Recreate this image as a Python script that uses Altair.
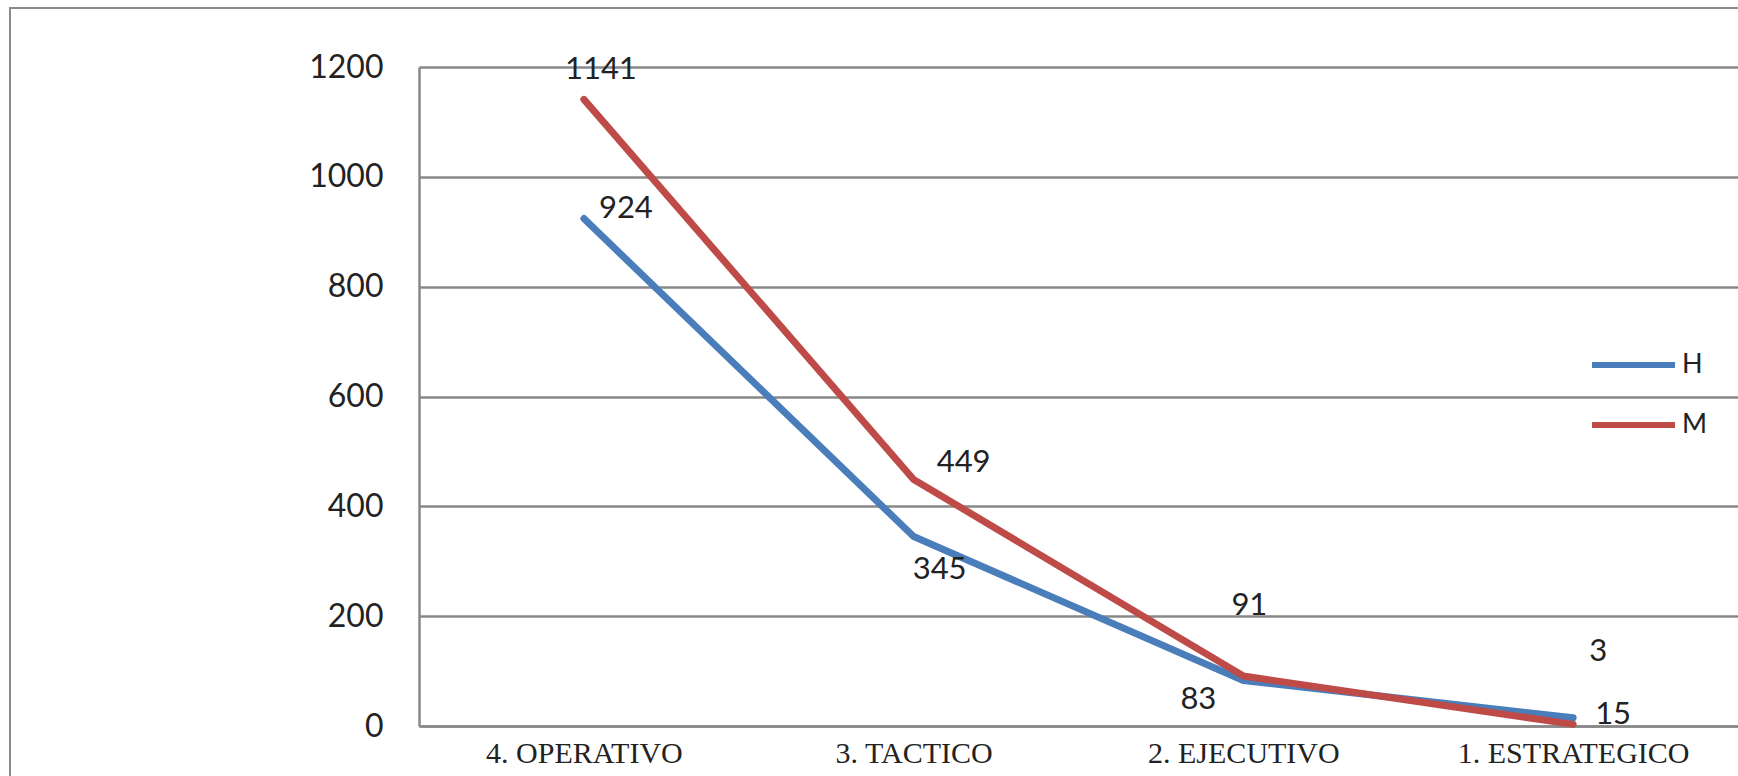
import altair as alt
import pandas as pd

categories = ["4. OPERATIVO", "3. TACTICO", "2. EJECUTIVO", "1. ESTRATEGICO"]
series_names = ["H", "M"]
h_values = [924, 345, 83, 15]
m_values = [1141, 449, 91, 3]
y_ticks = [0, 200, 400, 600, 800, 1000, 1200]

series_colors = ["#4A7EBB", "#BE4B48"]
# label offsets (dx, dy) in pixels, per point, like the Excel data labels
label_offsets = {
    "H": [(42, -10), (26, 33), (-45, 20), (40, -3)],
    "M": [(17, -29), (50, -16), (6, -70), (25, -72)],
}

rows = []
for name, vals in zip(series_names, [h_values, m_values]):
    for c, v in zip(categories, vals):
        rows.append({"category": c, "series": name, "value": v})
df = pd.DataFrame(rows)

W, H = 1319, 659

x_enc = alt.X(
    "category:N",
    sort=categories,
    scale=alt.Scale(type="point", padding=0.5),
    axis=alt.Axis(
        title=None, labelAngle=0, ticks=False, grid=False,
        domainColor="#888888", domainWidth=2.5,
        labelFont="Liberation Serif", labelFontSize=30, labelColor="#222222",
        labelPadding=12, labelLimit=0,
    ),
)
y_enc = alt.Y(
    "value:Q",
    scale=alt.Scale(domain=[0, 1200], nice=False),
    axis=alt.Axis(
        title=None, values=y_ticks, ticks=False, format="d",
        domainColor="#888888", domainWidth=2.5,
        gridColor="#888888", gridWidth=2.5,
        labelFont="Lato", labelFontSize=32, labelColor="#222222",
        labelPadding=36,
    ),
)

lines = alt.Chart(df).mark_line(strokeWidth=7, strokeCap="round", strokeJoin="round").encode(
    x=x_enc,
    y=y_enc,
    color=alt.Color(
        "series:N",
        scale=alt.Scale(domain=series_names, range=series_colors),
        legend=alt.Legend(
            title=None, orient="none", legendX=1170, legendY=283,
            symbolType="stroke", symbolSize=6889, symbolStrokeWidth=6,
            clipHeight=30, rowPadding=30, padding=0,
            labelFont="Lato", labelFontSize=27, labelColor="#222222", labelOffset=4,
        ),
    ),
    order=alt.Order("series:N"),
)

label_layers = []
for name in series_names:
    for c, (dx, dy) in zip(categories, label_offsets[name]):
        label_layers.append(
            alt.Chart(df)
            .transform_filter((alt.datum.series == name) & (alt.datum.category == c))
            .mark_text(font="Lato", fontSize=31, color="#222222", dx=dx, dy=dy)
            .encode(
                x=alt.X("category:N", sort=categories, scale=alt.Scale(type="point", padding=0.5)),
                y=alt.Y("value:Q"),
                text=alt.Text("value:Q"),
            )
        )

border = alt.Chart(pd.DataFrame({"a": [0]})).mark_rect(
    fill="transparent", stroke="#8c8c8c", strokeWidth=2
).encode(
    x=alt.value(-409), x2=alt.value(W + 40),
    y=alt.value(-59), y2=alt.value(H + 150),
)

chart = alt.layer(border, lines, *label_layers).properties(
    width=W,
    height=H,
    autosize=alt.AutoSizeParams(type="none"),
    padding={"left": 419, "top": 67, "right": 0, "bottom": 50},
    background="white",
).configure_view(stroke=None)

chart.save("out.html", embed_options={"renderer": "svg", "actions": False})
